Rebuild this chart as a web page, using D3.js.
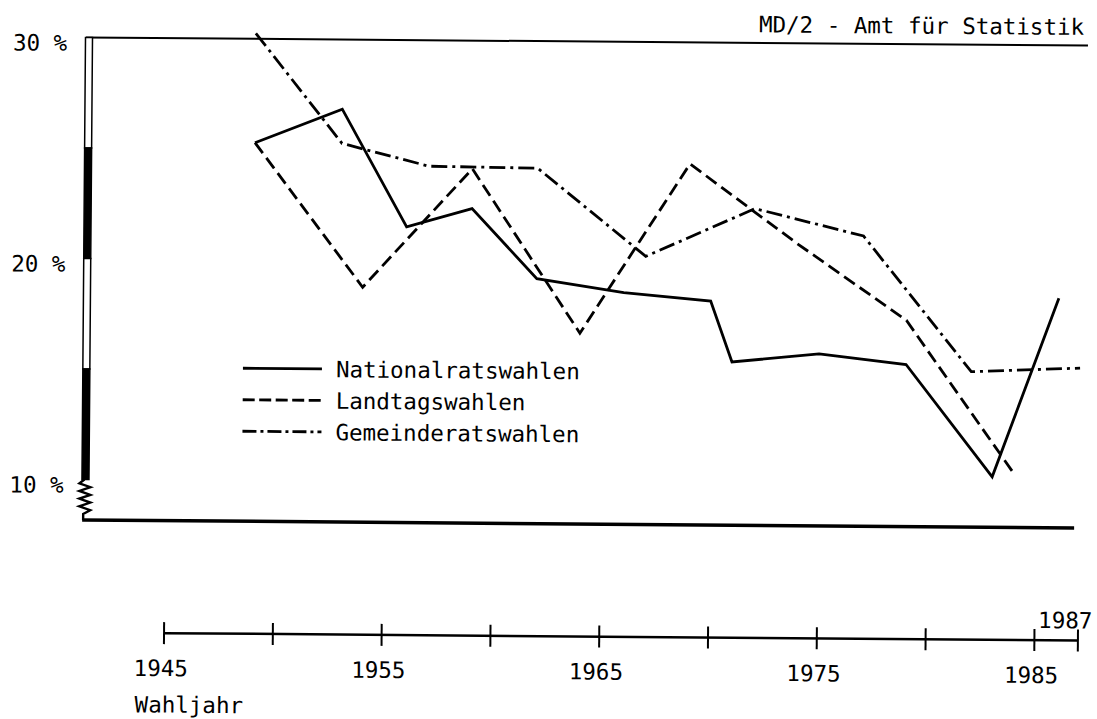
<!DOCTYPE html>
<html>
<head>
<meta charset="utf-8">
<script src="https://cdn.jsdelivr.net/npm/d3@7"></script>
<style>
  html, body { margin: 0; padding: 0; background: #fff; }
  svg text { font-family: "DejaVu Sans Mono", "Liberation Mono", monospace; font-size: 22.5px; fill: #000; }
</style>
</head>
<body>
<svg id="chart" width="1097" height="719"></svg>
<script>
// Nichtwähleranteil in % nach Wahljahr
const nrYears  = [1949, 1953, 1956, 1959, 1962, 1966, 1970, 1971, 1975, 1979, 1983, 1986];
const nrValues = [25.3, 26.85, 21.55, 22.4, 19.25, 18.65, 18.3, 15.55, 15.95, 15.5, 10.45, 18.55];

const ltYears  = [1949, 1954, 1959, 1964, 1969, 1974, 1979, 1984];
const ltValues = [25.3, 18.8, 24.2, 16.8, 24.5, 20.9, 17.5, 10.6];

const grYears  = [1949, 1953, 1957, 1962, 1967, 1972, 1977, 1982, 1987];
const grValues = [30.25, 25.3, 24.3, 24.25, 20.3, 22.5, 21.3, 15.2, 15.4];

const seriesNames = ["Nationalratswahlen", "Landtagswahlen", "Gemeinderatswahlen"];
const yTickValues = [30, 20, 10];
const yBands      = [30, 25, 20, 15, 10];
const xTickYears  = [1945, 1950, 1955, 1960, 1965, 1970, 1975, 1980, 1985, 1987];
const xLabelYears = [1945, 1955, 1965, 1975, 1985];
const sourceText  = "MD/2 - Amt für Statistik";
const xTitle      = "Wahljahr";

// scan is slightly tilted, draw everything in a rotated group
const tilt = Math.atan(0.008) * 180 / Math.PI;

const svg = d3.select("#chart");
const g = svg.append("g").attr("transform", `rotate(${tilt}, 88, 37.5)`);

const x = d3.scaleLinear().domain([1945, 1987]).range([168.8, 1082.7]);
const y = d3.scaleLinear().domain([10, 30]).range([479.5, 37.5]);

const axisX = 89;
const baseY = 520;       // bottom line below the axis break
const xAxisY = 632.5;    // separate year axis

const dashStyles = [null, "13,6", "16,5,3,5"];
const legendDash = [null, "12,4.5", "14,4,3,4"];

// top line at 30 %
g.append("line")
    .attr("x1", axisX - 3).attr("x2", 1088)
    .attr("y1", y(30)).attr("y2", y(30))
    .attr("stroke", "#000").attr("stroke-width", 2);

// bottom line
g.append("line")
    .attr("x1", axisX - 3).attr("x2", 1078)
    .attr("y1", baseY).attr("y2", baseY)
    .attr("stroke", "#000").attr("stroke-width", 3.5);

// y axis as bar with alternating bands
const bandPairs = d3.pairs(yBands);
g.selectAll("rect.band")
    .data(bandPairs)
    .enter()
    .append("rect")
    .attr("class", "band")
    .attr("x", axisX - 3.5)
    .attr("width", 7)
    .attr("y", d => y(d[0]))
    .attr("height", d => y(d[1]) - y(d[0]))
    .attr("fill", (d, i) => i % 2 === 0 ? "#fff" : "#000")
    .attr("stroke", "#000")
    .attr("stroke-width", 1.5);

// axis break zigzag
const zigTop = y(10), zigBottom = baseY - 6;
const zig = [[axisX - 1, zigTop]];
const nZig = 8;
for (let i = 1; i <= nZig; i++) {
    zig.push([axisX + (i % 2 ? -6 : 5), zigTop + (zigBottom - zigTop) * i / (nZig + 1)]);
}
zig.push([axisX - 2, zigBottom], [axisX - 2, baseY]);
g.append("path")
    .attr("d", d3.line()(zig))
    .attr("fill", "none")
    .attr("stroke", "#000")
    .attr("stroke-width", 2.4);

// y labels
g.selectAll("text.ylab")
    .data(yTickValues)
    .enter()
    .append("text")
    .attr("class", "ylab")
    .attr("x", 13)
    .attr("y", d => y(d) + 13.5)
    .text(d => `${d} %`);

// source
g.append("text")
    .attr("x", 1084)
    .attr("y", 27)
    .attr("text-anchor", "end")
    .text(sourceText);

// data lines
const series = [
    { years: nrYears, values: nrValues },
    { years: ltYears, values: ltValues },
    { years: grYears, values: grValues }
];
const line = d3.line().x(d => x(d[0])).y(d => y(d[1]));

g.selectAll("path.series")
    .data(series)
    .enter()
    .append("path")
    .attr("class", "series")
    .attr("d", s => line(d3.zip(s.years, s.values)))
    .attr("fill", "none")
    .attr("stroke", "#000")
    .attr("stroke-width", 2.8)
    .attr("stroke-linejoin", "miter")
    .attr("stroke-dasharray", (s, i) => dashStyles[i]);

// legend
const legend = g.append("g").attr("transform", "translate(245.6, 367)");
seriesNames.forEach((name, i) => {
    const row = legend.append("g").attr("transform", `translate(0, ${i * 31.5})`);
    row.append("line")
        .attr("x1", 0).attr("x2", 79)
        .attr("stroke", "#000")
        .attr("stroke-width", 2.8)
        .attr("stroke-dasharray", legendDash[i]);
    row.append("text")
        .attr("x", 93)
        .attr("y", 8.3)
        .text(name);
});

// year axis
const xAxis = g.append("g");
xAxis.append("line")
    .attr("x1", x(1945)).attr("x2", x(1987))
    .attr("y1", xAxisY).attr("y2", xAxisY)
    .attr("stroke", "#000").attr("stroke-width", 2.5);

xAxis.selectAll("line.tick")
    .data(xTickYears)
    .enter()
    .append("line")
    .attr("class", "tick")
    .attr("x1", d => x(d)).attr("x2", d => x(d))
    .attr("y1", xAxisY - 11).attr("y2", xAxisY + 11)
    .attr("stroke", "#000").attr("stroke-width", 2);

xAxis.selectAll("text.xlab")
    .data(xLabelYears)
    .enter()
    .append("text")
    .attr("class", "xlab")
    .attr("x", d => x(d) - 3)
    .attr("y", xAxisY + 43)
    .attr("text-anchor", "middle")
    .text(d => d);

xAxis.append("text")
    .attr("x", 1097)
    .attr("y", xAxisY - 12)
    .attr("text-anchor", "end")
    .text(d3.max(xTickYears));

xAxis.append("text")
    .attr("x", 140)
    .attr("y", 712)
    .text(xTitle);
</script>
</body>
</html>
